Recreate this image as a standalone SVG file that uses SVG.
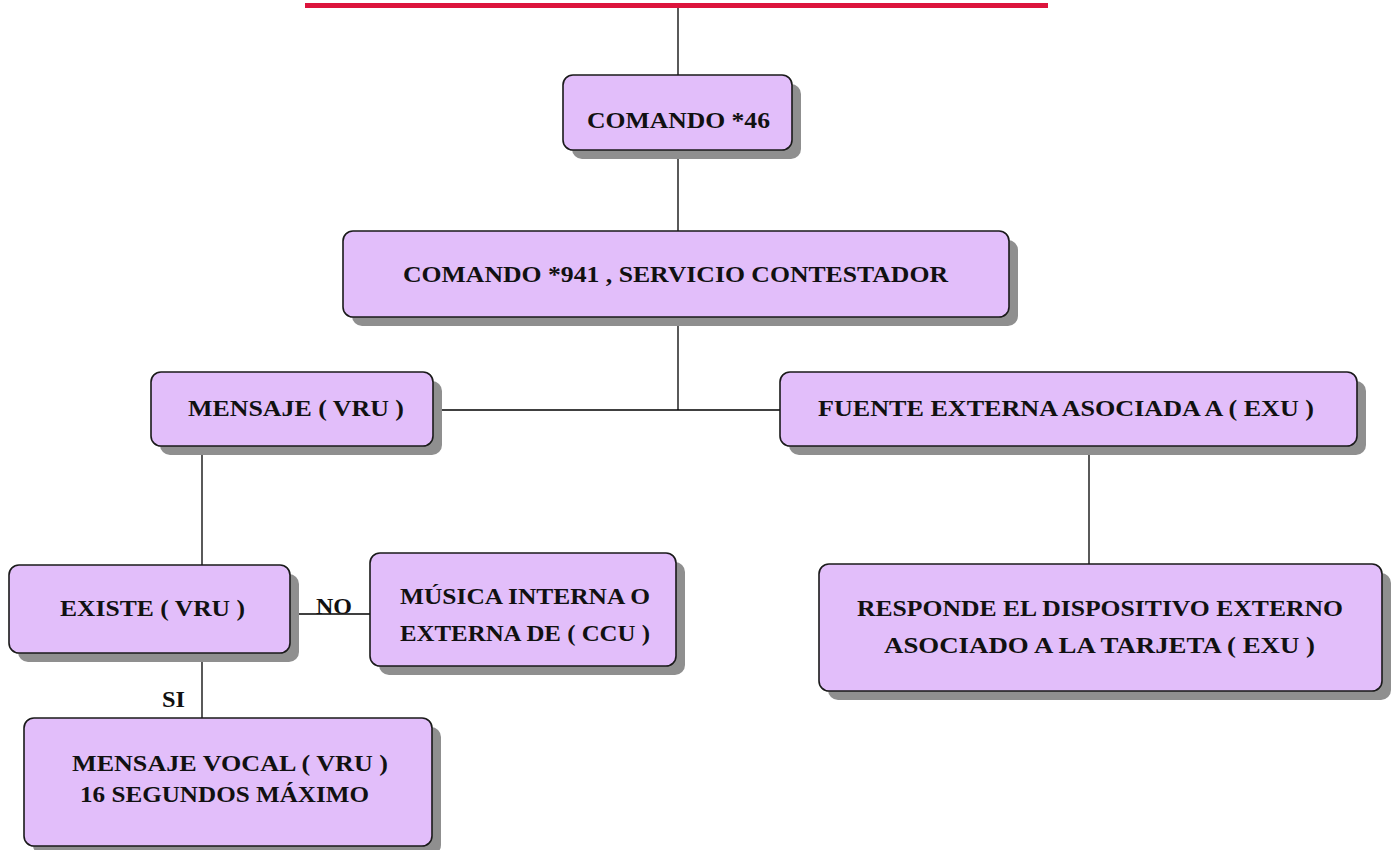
<svg xmlns="http://www.w3.org/2000/svg" width="1396" height="850" viewBox="0 0 1396 850">
<style>
.sh{fill:#8f8f8f;}
.bx{fill:#e2befa;stroke:#1a1a1a;stroke-width:1.6;}
.t{font-family:"Liberation Serif","Times New Roman",serif;font-weight:bold;font-size:24px;fill:#111;}
.c{stroke:#000;stroke-width:1.3;fill:none;}
</style>
<rect width="1396" height="850" fill="#fff"/>
<line x1="305" y1="5.5" x2="1048" y2="5.5" stroke="#dc143c" stroke-width="5"/>
<g id="connectors">
<line class="c" x1="678" y1="8" x2="678" y2="75"/>
<line class="c" x1="678" y1="150" x2="678" y2="231"/>
<line class="c" x1="678" y1="317" x2="678" y2="410"/>
<line class="c" x1="433" y1="410" x2="780" y2="410"/>
<line class="c" x1="202" y1="446" x2="202" y2="565"/>
<line class="c" x1="1089" y1="446" x2="1089" y2="564"/>
<line class="c" x1="290" y1="614" x2="370" y2="614"/>
<line class="c" x1="202" y1="653" x2="202" y2="718"/>
<text class="t" x="316" y="614" textLength="36" lengthAdjust="spacingAndGlyphs">NO</text>
<text class="t" x="162" y="707" textLength="23" lengthAdjust="spacingAndGlyphs">SI</text>
</g>
<g id="n1">
<rect class="sh" x="572" y="84" width="229" height="75" rx="10"/>
<rect class="bx" x="563" y="75" width="229" height="75" rx="10"/>
<text class="t" x="587" y="128" textLength="183" lengthAdjust="spacingAndGlyphs">COMANDO *46</text>
</g>
<g id="n2">
<rect class="sh" x="352" y="240" width="666" height="86" rx="10"/>
<rect class="bx" x="343" y="231" width="666" height="86" rx="10"/>
<text class="t" x="403" y="282" textLength="545" lengthAdjust="spacingAndGlyphs">COMANDO *941 , SERVICIO CONTESTADOR</text>
</g>
<g id="n3">
<rect class="sh" x="160" y="381" width="282" height="74" rx="10"/>
<rect class="bx" x="151" y="372" width="282" height="74" rx="10"/>
<text class="t" x="188" y="416" textLength="216" lengthAdjust="spacingAndGlyphs">MENSAJE ( VRU )</text>
</g>
<g id="n4">
<rect class="sh" x="789" y="381" width="577" height="74" rx="10"/>
<rect class="bx" x="780" y="372" width="577" height="74" rx="10"/>
<text class="t" x="818" y="416" textLength="496" lengthAdjust="spacingAndGlyphs">FUENTE EXTERNA ASOCIADA A ( EXU )</text>
</g>
<g id="n5">
<rect class="sh" x="18" y="574" width="281" height="88" rx="10"/>
<rect class="bx" x="9" y="565" width="281" height="88" rx="10"/>
<text class="t" x="60" y="616" textLength="185" lengthAdjust="spacingAndGlyphs">EXISTE ( VRU )</text>
</g>
<g id="n6">
<rect class="sh" x="379" y="562" width="306" height="113" rx="10"/>
<rect class="bx" x="370" y="553" width="306" height="113" rx="10"/>
<text class="t" x="400" y="604" textLength="250" lengthAdjust="spacingAndGlyphs">MÚSICA INTERNA O</text>
<text class="t" x="400" y="641" textLength="250" lengthAdjust="spacingAndGlyphs">EXTERNA DE ( CCU )</text>
</g>
<g id="n7">
<rect class="sh" x="828" y="573" width="563" height="127" rx="10"/>
<rect class="bx" x="819" y="564" width="563" height="127" rx="10"/>
<text class="t" x="857" y="616" textLength="486" lengthAdjust="spacingAndGlyphs">RESPONDE EL DISPOSITIVO EXTERNO</text>
<text class="t" x="884" y="653" textLength="431" lengthAdjust="spacingAndGlyphs">ASOCIADO A LA TARJETA ( EXU )</text>
</g>
<g id="n8">
<rect class="sh" x="33" y="727" width="408" height="128" rx="10"/>
<rect class="bx" x="24" y="718" width="408" height="128" rx="10"/>
<text class="t" x="72" y="771" textLength="316" lengthAdjust="spacingAndGlyphs">MENSAJE VOCAL ( VRU )</text>
<text class="t" x="80" y="802" textLength="289" lengthAdjust="spacingAndGlyphs">16 SEGUNDOS MÁXIMO</text>
</g>
</svg>
